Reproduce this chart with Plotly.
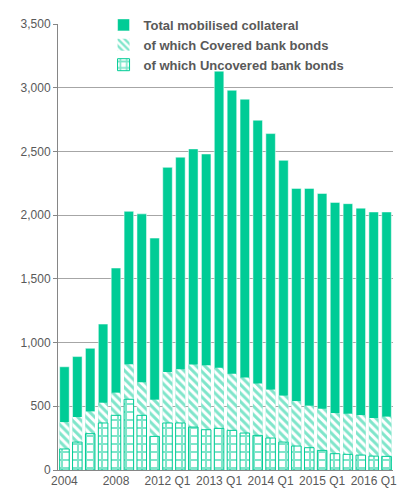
import plotly.graph_objects as go

categories = ["2004", "2005", "2006", "2007", "2008", "2009", "2010", "2011",
              "2012 Q1", "2012 Q2", "2012 Q3", "2012 Q4",
              "2013 Q1", "2013 Q2", "2013 Q3", "2013 Q4",
              "2014 Q1", "2014 Q2", "2014 Q3", "2014 Q4",
              "2015 Q1", "2015 Q2", "2015 Q3", "2015 Q4",
              "2016 Q1", "2016 Q2"]
total = [810, 890, 955, 1145, 1585, 2030, 2010, 1820, 2375, 2455, 2520, 2480,
         3130, 2980, 2910, 2745, 2640, 2430, 2210, 2210, 2170, 2100, 2090, 2055,
         2025, 2025]
covered = [376, 416, 460, 528, 607, 830, 688, 552, 769, 790, 827, 822, 803, 756,
           725, 678, 631, 584, 541, 505, 481, 447, 442, 431, 408, 419]
uncovered = [165, 219, 285, 369, 429, 555, 429, 264, 369, 369, 337, 316, 327, 311,
             290, 272, 251, 219, 188, 175, 154, 128, 123, 117, 109, 107]
tick_labels = ["2004", "2008", "2012 Q1", "2013 Q1", "2014 Q1", "2015 Q1", "2016 Q1"]

GREEN = "#00CC96"
GREY_TXT = "#595959"
FONT = "Arial, Liberation Sans, sans-serif"

fig = go.Figure()
fig.add_trace(go.Bar(x=categories, y=total, name="Total mobilised collateral",
                     marker=dict(color=GREEN, line=dict(color="white", width=0.5))))
fig.add_trace(go.Bar(x=categories, y=covered, name="of which Covered bank bonds",
                     marker=dict(color=GREEN, line=dict(color="white", width=0),
                                 pattern=dict(shape="\\", fgcolor=GREEN, bgcolor="white",
                                              size=6, solidity=0.5))))
fig.add_trace(go.Bar(x=categories, y=uncovered, name="of which Uncovered bank bonds",
                     marker=dict(color=GREEN, line=dict(color=GREEN, width=1),
                                 pattern=dict(shape="+", fgcolor=GREEN, bgcolor="white",
                                              size=8, solidity=0.45))))

fig.update_layout(
    width=398, height=493,
    margin=dict(l=58, r=1, t=24, b=23),
    barmode="overlay", bargap=0.26,
    plot_bgcolor="white", paper_bgcolor="white",
    font=dict(family=FONT, size=12, color=GREY_TXT),
    legend=dict(x=0.136, y=1.0315, xanchor="left", yanchor="top",
                bgcolor="rgba(0,0,0,0)", traceorder="normal",
                font=dict(family=FONT, size=13, color=GREY_TXT, weight="bold"),
                tracegroupgap=0),
    showlegend=True,
)
fig.update_xaxes(type="category", tickmode="array", tickvals=tick_labels,
                 ticktext=tick_labels, tickangle=0, showgrid=False,
                 showline=True, linecolor="#868686", linewidth=1, ticks="",
                 tickfont=dict(family=FONT, size=12, color=GREY_TXT))
fig.update_yaxes(range=[0, 3500], dtick=500, tickformat=",d", showgrid=True,
                 gridcolor="#A6A6A6", gridwidth=1, showline=True,
                 linecolor="#868686", linewidth=1, ticks="outside", ticklen=4,
                 tickcolor="#868686", zeroline=False,
                 tickfont=dict(family=FONT, size=12, color=GREY_TXT))

fig.write_html("out.html")
